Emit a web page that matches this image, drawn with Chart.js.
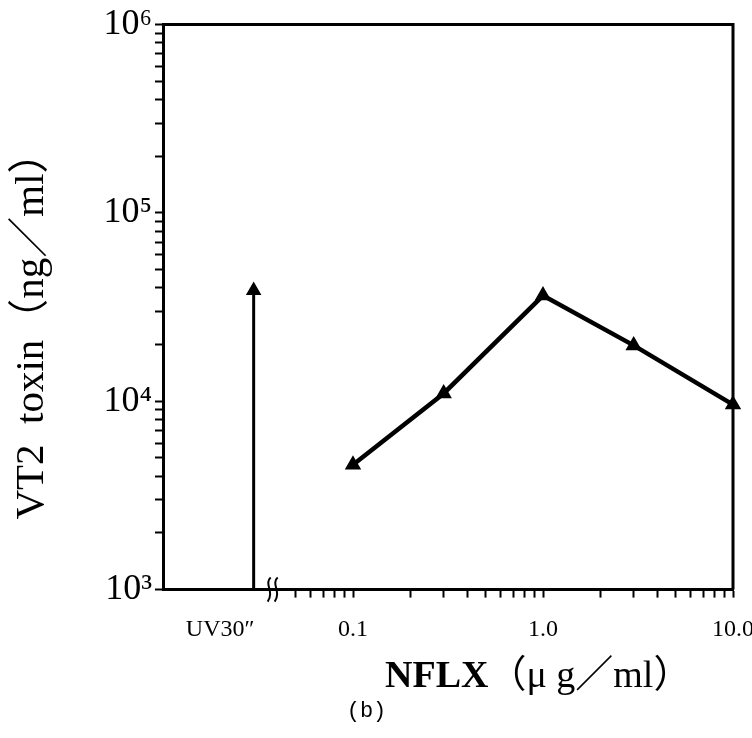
<!DOCTYPE html>
<html>
<head>
<meta charset="utf-8">
<script src="https://cdn.jsdelivr.net/npm/chart.js@4.4.1/dist/chart.umd.min.js"></script>
<style>
  html, body { margin: 0; padding: 0; background: #fff; }
  #wrap { width: 752px; height: 738px; }
</style>
</head>
<body>
<div id="wrap"><canvas id="chart"></canvas></div>
<script>
// NFLX concentration (ug/ml) and VT2 toxin (ng/ml)
var nflxDose = [0.1, 0.3, 1, 3, 10];
var vt2Toxin = [4600, 11000, 36400, 19800, 9600];

// UV30" control (drawn as an arrow off the broken axis)
var uvDose = [0.03, 0.03];
var uvToxin = [1000, 38700];

// tick positions / labels
var xTickVals = [0.02, 0.05, 0.06, 0.07, 0.08, 0.09, 0.1, 0.2, 0.3, 0.4, 0.5, 0.6, 0.7, 0.8, 0.9,
                 1, 2, 3, 4, 5, 6, 7, 8, 9, 10];
var xLabelVals = [0.02, 0.1, 1, 10];
var xLabelText = ["UV30″", "0.1", "1.0", "10.0"];
var yTickVals = [];
[1e3, 1e4, 1e5].forEach(function (d) {
  for (var i = 1; i < 10; i++) yTickVals.push(d * i);
});
yTickVals.push(1e6);
var yLabelVals = [1e3, 1e4, 1e5, 1e6];
var yLabelText = ["10³", "10⁴", "10⁵", "10⁶"];

var serif = "'Liberation Serif', 'DejaVu Serif', serif";
var cjkSerif = "'Liberation Serif', 'Noto Sans CJK JP', serif";

// frame on top/right, the axis break mark and the two axis titles
var framePlugin = {
  id: "frame",
  afterDatasetsDraw: function (chart) {
    var c = chart.ctx, a = chart.chartArea;
    c.save();
    c.strokeStyle = "#000";
    c.lineWidth = 3;
    c.beginPath();
    c.moveTo(a.left, a.top);
    c.lineTo(a.right, a.top);
    c.lineTo(a.right, a.bottom);
    c.stroke();

    // the break "≀≀" on the x axis
    var bx = chart.scales.x.getPixelForValue(0.036);
    var by = a.bottom;
    c.lineWidth = 2;
    [0, 7].forEach(function (dx) {
      var x0 = bx + dx;
      c.beginPath();
      c.moveTo(x0 + 2, by - 12);
      c.bezierCurveTo(x0 - 5, by - 6, x0 + 6, by + 2, x0 - 1, by + 12);
      c.stroke();
    });

    c.fillStyle = "#000";
    c.textBaseline = "alphabetic";

    // x title: bold NFLX, unit in normal weight
    c.textAlign = "left";
    c.font = "bold 38px " + serif;
    var tx = 385, ty = 687;
    c.fillText("NFLX", tx, ty);
    tx += c.measureText("NFLX").width;
    c.font = "38px " + cjkSerif;
    c.fillText("（μ g／ml）", tx, ty);

    // y title, rotated
    c.translate(43, 326);
    c.rotate(-Math.PI / 2);
    c.textAlign = "center";
    c.font = "41px " + cjkSerif;
    c.fillText("VT2  toxin（ng／ml）", 0, 0);
    c.restore();
  }
};

var ctx = document.getElementById("chart").getContext("2d");
new Chart(ctx, {
  type: "scatter",
  data: {
    datasets: [
      {
        label: "NFLX",
        data: nflxDose.map(function (d, i) { return { x: d, y: vt2Toxin[i] }; }),
        showLine: true,
        borderColor: "#000",
        backgroundColor: "#000",
        borderWidth: 4.5,
        pointStyle: "triangle",
        pointRadius: 5,
        clip: false
      },
      {
        label: "UV30″",
        data: uvDose.map(function (d, i) { return { x: d, y: uvToxin[i] }; }),
        showLine: true,
        borderColor: "#000",
        backgroundColor: "#000",
        borderWidth: 3,
        pointStyle: "triangle",
        pointRadius: [0, 6],
        clip: false
      }
    ]
  },
  options: {
    responsive: true,
    maintainAspectRatio: false,
    animation: false,
    layout: { padding: { left: 0, right: 19, top: 22, bottom: 0 } },
    plugins: {
      legend: { display: false },
      tooltip: { enabled: false },
      title: {
        display: true,
        position: "bottom",
        text: "(b)",
        color: "#000",
        font: { family: "'Liberation Mono', 'DejaVu Sans Mono', monospace", size: 22, weight: "normal" },
        padding: { top: 4, bottom: 14 }
      }
    },
    scales: {
      x: {
        type: "logarithmic",
        min: 0.01,
        max: 10,
        border: { display: true, color: "#000", width: 3 },
        grid: {
          drawOnChartArea: false,
          drawTicks: true,
          tickLength: 8,
          tickWidth: 2,
          tickColor: function (c) {
            return c.tick && c.tick.value === 0.02 ? "rgba(0,0,0,0)" : "#000";
          }
        },
        afterBuildTicks: function (scale) {
          scale.ticks = xTickVals.map(function (v) { return { value: v }; });
        },
        afterFit: function (scale) {
          scale.height = 104;
          scale.paddingLeft = 0;
          scale.paddingRight = 0;
        },
        ticks: {
          autoSkip: false,
          maxRotation: 0,
          padding: 18,
          color: "#000",
          font: { family: serif, size: 24 },
          callback: function (v) {
            var i = xLabelVals.indexOf(v);
            return i >= 0 ? xLabelText[i] : "";
          }
        },
        title: { display: false }
      },
      y: {
        type: "logarithmic",
        min: 1000,
        max: 1000000,
        border: { display: true, color: "#000", width: 3 },
        grid: {
          drawOnChartArea: false,
          drawTicks: true,
          tickLength: 8,
          tickWidth: 2,
          tickColor: "#000"
        },
        afterBuildTicks: function (scale) {
          scale.ticks = yTickVals.map(function (v) { return { value: v }; });
        },
        afterFit: function (scale) {
          scale.width = 163;
        },
        ticks: {
          autoSkip: false,
          padding: 3,
          color: "#000",
          font: { family: serif, size: 36 },
          callback: function (v) {
            var i = yLabelVals.indexOf(v);
            return i >= 0 ? yLabelText[i] : "";
          }
        },
        title: { display: false }
      }
    }
  },
  plugins: [framePlugin]
});
</script>
</body>
</html>
